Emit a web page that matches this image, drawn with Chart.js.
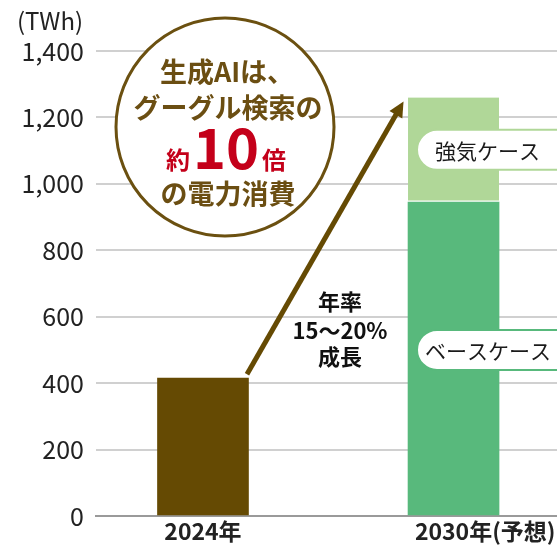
<!DOCTYPE html>
<html>
<head>
<meta charset="utf-8">
<script src="https://cdn.jsdelivr.net/npm/chart.js@4"></script>
<style>
  html, body { margin: 0; padding: 0; background: #fff; overflow: hidden; }
  #wrap { width: 557px; height: 545px; }
</style>
</head>
<body>
<div id="wrap"><canvas id="chart" width="557" height="545"></canvas></div>
<script>
const categories = ['2024年', '2030年(予想)'];
const actual2024 = [415, null];
const baseCase = [null, 945];
const strongExtra = [null, 315];
const yTicks = [0, 200, 400, 600, 800, 1000, 1200, 1400];

const FONT = "'Noto Sans CJK JP', 'Noto Sans', sans-serif";
const BROWN = '#654a03';
const GREEN = '#58b97c';
const LIGHT = '#b0d798';

const toPoints = arr => arr.map((v, i) => ({ x: i, y: v })).filter(p => p.y !== null);

function roundRect(ctx, x, y, w, h, r) {
    ctx.beginPath();
    ctx.moveTo(x + r, y);
    ctx.lineTo(x + w - r, y);
    ctx.arc(x + w - r, y + r, r, -Math.PI / 2, 0);
    ctx.lineTo(x + w, y + h - r);
    ctx.arc(x + w - r, y + h - r, r, 0, Math.PI / 2);
    ctx.lineTo(x + r, y + h);
    ctx.arc(x + r, y + h - r, r, Math.PI / 2, Math.PI);
    ctx.lineTo(x, y + r);
    ctx.arc(x + r, y + r, r, Math.PI, Math.PI * 1.5);
    ctx.closePath();
}

const decorations = {
    id: 'decorations',
    beforeDatasetsDraw(chart) {
        const ctx = chart.ctx;
        ctx.save();
        // callout circle
        ctx.beginPath();
        ctx.arc(225, 127, 109, 0, Math.PI * 2);
        ctx.fillStyle = '#fff';
        ctx.fill();
        ctx.lineWidth = 3;
        ctx.strokeStyle = '#6b5010';
        ctx.stroke();
        ctx.restore();
    },
    afterDatasetsDraw(chart) {
        const ctx = chart.ctx;
        const xs = chart.scales.x, ys = chart.scales.y;
        ctx.save();

        // unit
        ctx.fillStyle = '#222';
        ctx.font = `24px ${FONT}`;
        ctx.textAlign = 'center';
        ctx.textBaseline = 'middle';
        ctx.fillText('(TWh)', 50, 21);

        // x labels
        ctx.font = `bold 23px ${FONT}`;
        ctx.textBaseline = 'middle';
        categories.forEach((c, i) => {
            const px = xs.getPixelForValue(i);
            const k = c.indexOf('(');
            const main = k < 0 ? c : c.slice(0, k);
            const rest = k < 0 ? '' : c.slice(k);
            const w = ctx.measureText(main).width;
            ctx.textAlign = 'left';
            ctx.fillStyle = '#222';
            ctx.fillText(main, px - w / 2, 531);
            if (rest) ctx.fillText(rest, px + w / 2, 531);
        });

        // growth arrow
        const x0 = xs.getPixelForValue(0) + 44, y0 = ys.getPixelForValue(actual2024[0]) - 4;
        const x1 = xs.getPixelForValue(1) - 50, y1 = ys.getPixelForValue(baseCase[1] + strongExtra[1]) + 4;
        const ang = Math.atan2(y1 - y0, x1 - x0);
        const head = 17;
        ctx.strokeStyle = BROWN;
        ctx.fillStyle = BROWN;
        ctx.lineWidth = 5;
        ctx.beginPath();
        ctx.moveTo(x0, y0);
        ctx.lineTo(x1 - Math.cos(ang) * head * 0.8, y1 - Math.sin(ang) * head * 0.8);
        ctx.stroke();
        ctx.beginPath();
        ctx.moveTo(x1, y1);
        ctx.lineTo(x1 - Math.cos(ang - 0.45) * head, y1 - Math.sin(ang - 0.45) * head);
        ctx.lineTo(x1 - Math.cos(ang + 0.45) * head, y1 - Math.sin(ang + 0.45) * head);
        ctx.closePath();
        ctx.fill();

        // growth text
        ctx.fillStyle = '#111';
        ctx.font = `bold 22px ${FONT}`;
        ctx.textAlign = 'center';
        ctx.textBaseline = 'middle';
        ctx.fillText('年率', 340, 302);
        ctx.fillText('15〜20%', 340, 331);
        ctx.fillText('成長', 340, 357);

        // circle text
        const tb = '#6b4e12', red = '#c4001a';
        ctx.fillStyle = tb;
        ctx.font = `bold 27px ${FONT}`;
        ctx.fillText('生成AIは、', 227, 72);
        ctx.fillText('グーグル検索の', 228, 108);
        ctx.fillText('の電力消費', 228, 194);
        ctx.textBaseline = 'alphabetic';
        ctx.textAlign = 'left';
        ctx.font = `bold 24px ${FONT}`;
        const wa = ctx.measureText('約').width;
        ctx.font = `bold 56px ${FONT}`;
        const wn = ctx.measureText('10').width;
        const gap = 3;
        const total = wa * 2 + wn + gap * 2;
        let cx = 226 - total / 2;
        ctx.fillStyle = red;
        ctx.font = `bold 24px ${FONT}`;
        ctx.fillText('約', cx, 169);
        cx += wa + gap;
        ctx.font = `bold 56px ${FONT}`;
        ctx.fillText('10', cx, 169);
        cx += wn + gap;
        ctx.font = `bold 24px ${FONT}`;
        ctx.fillText('倍', cx, 169);

        // case pills
        const pills = [
            { text: '強気ケース', y: ys.getPixelForValue(baseCase[1] + strongExtra[1] / 2), color: LIGHT, tx: 435 },
            { text: 'ベースケース', y: ys.getPixelForValue(500), color: GREEN, tx: 425 }
        ];
        pills.forEach(p => {
            roundRect(ctx, 417, p.y - 20, 170, 40, 20);
            ctx.fillStyle = '#fff';
            ctx.fill();
            ctx.lineWidth = 2;
            ctx.strokeStyle = p.color;
            ctx.stroke();
            ctx.fillStyle = '#1a1a1a';
            ctx.font = `21px ${FONT}`;
            ctx.textAlign = 'left';
            ctx.textBaseline = 'middle';
            ctx.fillText(p.text, p.tx, p.y + 1);
        });

        ctx.restore();
    }
};

new Chart(document.getElementById('chart').getContext('2d'), {
    type: 'bar',
    data: {
        datasets: [
            { label: categories[0], data: toPoints(actual2024), backgroundColor: BROWN },
            { label: 'ベースケース', data: toPoints(baseCase), backgroundColor: GREEN },
            {
                label: '強気ケース', data: toPoints(strongExtra), backgroundColor: LIGHT,
                borderColor: '#fff', borderWidth: { top: 0, left: 0, right: 0, bottom: 2 }, borderSkipped: false
            }
        ]
    },
    options: {
        responsive: false,
        animation: false,
        events: [],
        barThickness: 91,
        layout: { padding: { top: 51, right: 0, bottom: 0, left: 0 } },
        plugins: { legend: { display: false }, tooltip: { enabled: false } },
        scales: {
            x: {
                type: 'linear',
                stacked: true,
                offset: false,
                min: -0.427,
                max: 1.413,
                grid: { display: false },
                border: { display: true, color: '#9a9a9a', width: 2 },
                ticks: { display: false },
                afterFit: s => { s.height = 29; }
            },
            y: {
                stacked: true,
                min: 0,
                max: 1400,
                afterBuildTicks: s => { s.ticks = yTicks.map(v => ({ value: v })); },
                afterFit: s => { s.width = 96; },
                border: { display: false },
                grid: {
                    drawTicks: false,
                    lineWidth: 2,
                    color: c => c.tick && c.tick.value === 0 ? 'rgba(0,0,0,0)' : '#d0d0d0'
                },
                ticks: {
                    padding: 12,
                    color: '#222',
                    font: { family: FONT, size: 25 },
                    callback: v => v.toLocaleString('en-US')
                }
            }
        }
    },
    plugins: [decorations]
});
</script>
</body>
</html>
